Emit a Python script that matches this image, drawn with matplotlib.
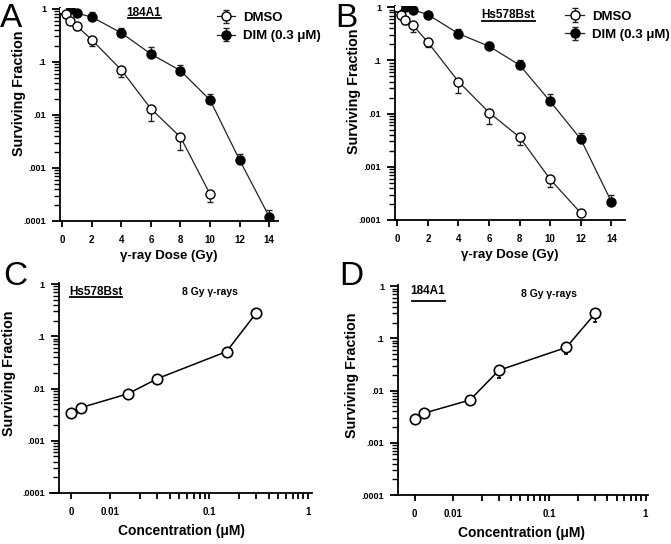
import matplotlib
matplotlib.use("Agg")
import matplotlib.pyplot as plt
from matplotlib.ticker import FixedLocator, NullFormatter
import numpy as np

plt.rcParams['font.family'] = ['Liberation Sans', 'DejaVu Sans']

# --- data ---
# panel A (184A1), dose in Gy
a_dmso_dose = [0, 0.25, 0.5, 1, 2, 4, 6, 8, 10]
a_dmso_sf = [1.0, 0.78, 0.6, 0.47, 0.26, 0.07, 0.013, 0.0038, 0.00032]
a_dmso_err = [0, 0.1, 0.08, 0.08, 0.06, 0.018, 0.0055, 0.0016, 0.00009]
a_dim_dose = [0, 0.125, 0.25, 0.5, 1, 2, 4, 6, 8, 10, 12, 14]
a_dim_sf = [1.0, 1.0, 1.0, 1.0, 0.82, 0.7, 0.35, 0.14, 0.068, 0.019, 0.0014, 0.00012]
a_dim_err = [0.05, 0.05, 0.05, 0.1, 0.08, 0.15, 0.08, 0.05, 0.02, 0.006, 0.0004, 0.00004]

# panel B (Hs578Bst)
b_dmso_dose = [0, 0.25, 0.5, 1, 2, 4, 6, 8, 10, 12]
b_dmso_sf = [1.0, 0.72, 0.58, 0.47, 0.22, 0.04, 0.0105, 0.0036, 0.00058, 0.000135]
b_dmso_err = [0, 0.08, 0.1, 0.12, 0.04, 0.015, 0.004, 0.001, 0.00016, 0]
b_dim_dose = [0, 0.125, 0.25, 0.5, 1, 2, 4, 6, 8, 10, 12, 14]
b_dim_sf = [1.0, 1.0, 1.0, 1.0, 0.9, 0.73, 0.32, 0.185, 0.082, 0.017, 0.0033, 0.00022]
b_dim_err = [0.05, 0.05, 0.05, 0.05, 0.1, 0.1, 0.07, 0.04, 0.022, 0.006, 0.001, 0.00007]

# panels C / D, DIM concentration in uM, 8 Gy
conc = [0, 0.005, 0.015, 0.03, 0.15, 0.3]
c_sf = [0.0034, 0.0043, 0.0079, 0.0155, 0.051, 0.28]
c_err = [0.0006, 0.0008, 0.0012, 0.0025, 0.008, 0.04]
d_sf = [0.0029, 0.0037, 0.0066, 0.0245, 0.067, 0.30]
d_err = [0.0006, 0.0007, 0.0012, 0.007, 0.017, 0.09]

ytick_vals = [1e-4, 1e-3, 1e-2, 1e-1, 1]
ytick_labels = ['.0001', '.001', '.01', '.1', '1']
dose_ticks = [0, 2, 4, 6, 8, 10, 12, 14]
ZERO_POS = 0.004  # where the "0" concentration sits on the log axis

fig = plt.figure(figsize=(6.71, 5.44), dpi=100)

bold = dict(fontweight='bold')


def style_axes(ax):
    for s in ['top', 'right']:
        ax.spines[s].set_visible(False)
    for s in ['left', 'bottom']:
        ax.spines[s].set_linewidth(1.3)
    ax.set_yscale('log')
    ax.set_ylim(1e-4, 1.05)
    ax.yaxis.set_major_locator(FixedLocator(ytick_vals))
    ax.set_yticklabels(ytick_labels, fontsize=6.5, **bold)
    ax.yaxis.set_minor_formatter(NullFormatter())
    ax.tick_params(axis='y', which='major', length=6, width=1.3, pad=4)
    ax.tick_params(axis='y', which='minor', length=4, width=1)
    ax.tick_params(axis='x', which='major', length=4, width=1.3, pad=6)
    ax.tick_params(axis='x', which='minor', length=4, width=1.3)
    ax.set_ylabel('Surviving Fraction', fontsize=10.3, **bold)


def underlined_title(ax, text, x, y, x0, x1, yl):
    ax.text(x, y, text, transform=ax.transAxes, ha='center', va='center',
            fontsize=8.5, **bold)
    ax.plot([x0, x1], [yl, yl], transform=ax.transAxes, color='black',
            lw=1.3, clip_on=False)


def dose_panel(ax, d_dose, d_sf, d_err, m_dose, m_sf, m_err, xmax, legx):
    style_axes(ax)
    ax.errorbar(m_dose, m_sf, yerr=[np.zeros(len(m_err)), m_err], fmt='-o',
                color='#222222', mfc='black', mec='black', ms=6.5, lw=0.9,
                elinewidth=0.9, capsize=2, label='DIM (0.3 μM)', zorder=3)
    ax.errorbar(d_dose, d_sf, yerr=[d_err, np.zeros(len(d_err))], fmt='-o',
                color='#222222', mfc='white', mec='black', ms=6.5, mew=1.0,
                lw=0.9, elinewidth=0.9, capsize=2, label='DMSO', zorder=4)
    ax.set_xlim(-0.15, xmax)
    ax.set_xticks(dose_ticks)
    ax.set_xticklabels([str(t) for t in dose_ticks], fontsize=7, **bold)
    ax.set_xlabel('γ-ray Dose (Gy)', fontsize=9.5, labelpad=4, **bold)
    h, l = ax.get_legend_handles_labels()
    ax.legend(h[::-1], l[::-1], loc='upper left', bbox_to_anchor=(legx, 0.98),
              frameon=False, handlelength=1.4, handletextpad=0.6,
              labelspacing=0.45, borderpad=0, borderaxespad=0,
              prop=dict(family='Liberation Sans', weight='bold', size=9.5))


def conc_panel(ax, sf, err, spine_x, xlo, xhi):
    xpos = [ZERO_POS if c == 0 else c for c in conc]
    ax.set_xscale('log')
    ax.set_xlim(xlo, xhi)
    ax.spines['left'].set_position(('data', spine_x))
    style_axes(ax)
    ax.errorbar(xpos, sf, yerr=[err, np.zeros(len(err))], fmt='-o',
                color='black', mfc='white', mec='black', ms=7.5, mew=1.2,
                lw=1.1, elinewidth=0.9, capsize=1.5, zorder=3)
    ax.set_xlim(xlo, xhi)
    ax.xaxis.set_major_locator(FixedLocator([ZERO_POS, 0.01, 0.1, 1]))
    ax.set_xticklabels(['0', '0.01', '0.1', '1'], fontsize=7, **bold)
    minors = [k * 0.01 for k in range(2, 10)] + [k * 0.1 for k in range(2, 10)]
    ax.xaxis.set_minor_locator(FixedLocator(minors))
    ax.xaxis.set_minor_formatter(NullFormatter())
    ax.set_xlabel('Concentration (μM)', fontsize=10, labelpad=5, **bold)


# A
axA = fig.add_axes([0.0894, 0.594, 0.325, 0.392])
dose_panel(axA, a_dmso_dose, a_dmso_sf, a_dmso_err,
           a_dim_dose, a_dim_sf, a_dim_err, 14.6, 0.72)
axA.yaxis.set_label_coords(-0.156, 0.6)
underlined_title(axA, '184A1', 0.385, 0.975, 0.312, 0.463, 0.95)

# B
axB = fig.add_axes([0.5887, 0.5956, 0.343, 0.393])
dose_panel(axB, b_dmso_dose, b_dmso_sf, b_dmso_err,
           b_dim_dose, b_dim_sf, b_dim_err, 14.9, 0.74)
axB.yaxis.set_label_coords(-0.148, 0.6)
underlined_title(axB, 'Hs578Bst', 0.49, 0.96, 0.378, 0.609, 0.93)

# C
axC = fig.add_axes([0.0745, 0.0938, 0.3905, 0.386])
conc_panel(axC, c_sf, c_err, 0.003, 0.00245, 1.1)
axC.yaxis.set_label_coords(-0.13, 0.57)
underlined_title(axC, 'Hs578Bst', 0.176, 0.957, 0.076, 0.275, 0.935)
axC.text(0.61, 0.955, '8 Gy γ-rays', transform=axC.transAxes, ha='center',
         va='center', fontsize=7.5, **bold)

# D
axD = fig.add_axes([0.5887, 0.090, 0.377, 0.386])
conc_panel(axD, d_sf, d_err, 0.0027, 0.0025, 1.06)
axD.yaxis.set_label_coords(-0.142, 0.57)
underlined_title(axD, '184A1', 0.13, 0.97, 0.067, 0.198, 0.925)
axD.text(0.61, 0.958, '8 Gy γ-rays', transform=axD.transAxes, ha='center',
         va='center', fontsize=7.5, **bold)

# panel letters
for lbl, x, y in [('A', 0.0, 0.995), ('B', 0.5, 0.995),
                  ('C', 0.005, 0.52), ('D', 0.505, 0.52)]:
    fig.text(x, y, lbl, fontsize=24, ha='left', va='top')

fig.savefig('out.png', dpi=100)
